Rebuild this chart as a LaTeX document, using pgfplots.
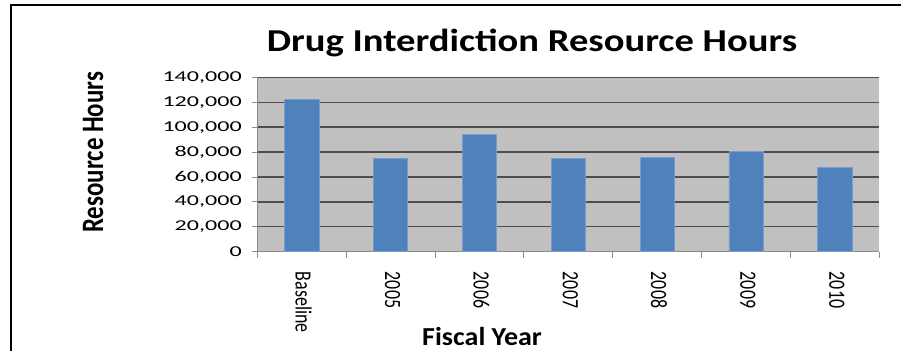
\documentclass[border=0pt]{standalone}
\usepackage{pgfplots}
\pgfplotsset{compat=1.18}
\usepackage{fontspec}
\setmainfont{Carlito}
\definecolor{barblue}{HTML}{4F81BD}
\definecolor{baredge}{HTML}{7A9CCB}
\definecolor{bggray}{HTML}{C0C0C0}
\definecolor{gridgray}{HTML}{4D4D4D}
\definecolor{axgray}{HTML}{8A8A8A}
\begin{document}
\begin{tikzpicture}
\path[use as bounding box] (-257.3bp,-99.3bp) rectangle (643.7bp,251.7bp);
\draw[line width=2bp] (-245.8bp,-99.3bp) -- (-245.8bp,246.2bp) -- (643.7bp,246.2bp);
\begin{axis}[
  at={(0,0)}, anchor=south west,
  scale only axis, width=622bp, height=174.4bp,
  ybar, bar width=34.3bp,
  xmin=-0.5, xmax=6.5, ymin=0, ymax=140000,
  axis x line*=bottom, axis y line*=left,
  axis line style={axgray, line width=0.8bp},
  axis background/.style={fill=bggray},
  ymajorgrids, major grid style={gridgray, line width=1.4bp},
  ytick={0,20000,40000,60000,80000,100000,120000,140000},
  yticklabels={0,{20,000},{40,000},{60,000},{80,000},{100,000},{120,000},{140,000}},
  scaled y ticks=false,
  xtick={0,1,2,3,4,5,6},
  xticklabels={Baseline,2005,2006,2007,2008,2009,2010},
  minor xtick={-0.5,0.5,1.5,2.5,3.5,4.5,5.5,6.5},
  tick align=outside,
  major tick length=5bp, minor tick length=6bp,
  major x tick style={draw=none},
  minor x tick style={axgray, line width=0.8bp},
  y tick style={axgray, line width=0.8bp},
  yticklabel style={font=\fontsize{21}{21}\selectfont, xscale=1.15, yscale=0.72, anchor=east, inner sep=0pt, xshift=-9bp},
  xticklabel style={font=\fontsize{18}{18}\selectfont, rotate=-90, yscale=1.3, anchor=west, inner sep=0pt, xshift=15bp, yshift=1.5bp},
  title={Drug Interdiction Resource Hours},
  title style={font=\bfseries\fontsize{32}{32}\selectfont, xscale=1.21, at={(axis description cs:0.4417,1.114)}, anchor=base, inner sep=0pt},
  xlabel={Fiscal Year},
  xlabel style={font=\bfseries\fontsize{26}{26}\selectfont, xscale=1.08, at={(axis description cs:0.3613,-0.54)}, anchor=base, inner sep=0pt},
  ylabel={Resource Hours},
  ylabel style={font=\bfseries\fontsize{25}{25}\selectfont, at={(axis description cs:-0.264,0.570)}, anchor=center, rotate=0, yscale=1.25, inner sep=0pt},
]
\addplot[fill=barblue, draw=baredge, line width=0.6bp] coordinates {
  (0,122300) (1,74700) (2,94000) (3,74700) (4,75500) (5,80600) (6,67700)
};
\end{axis}
\end{tikzpicture}
\end{document}
